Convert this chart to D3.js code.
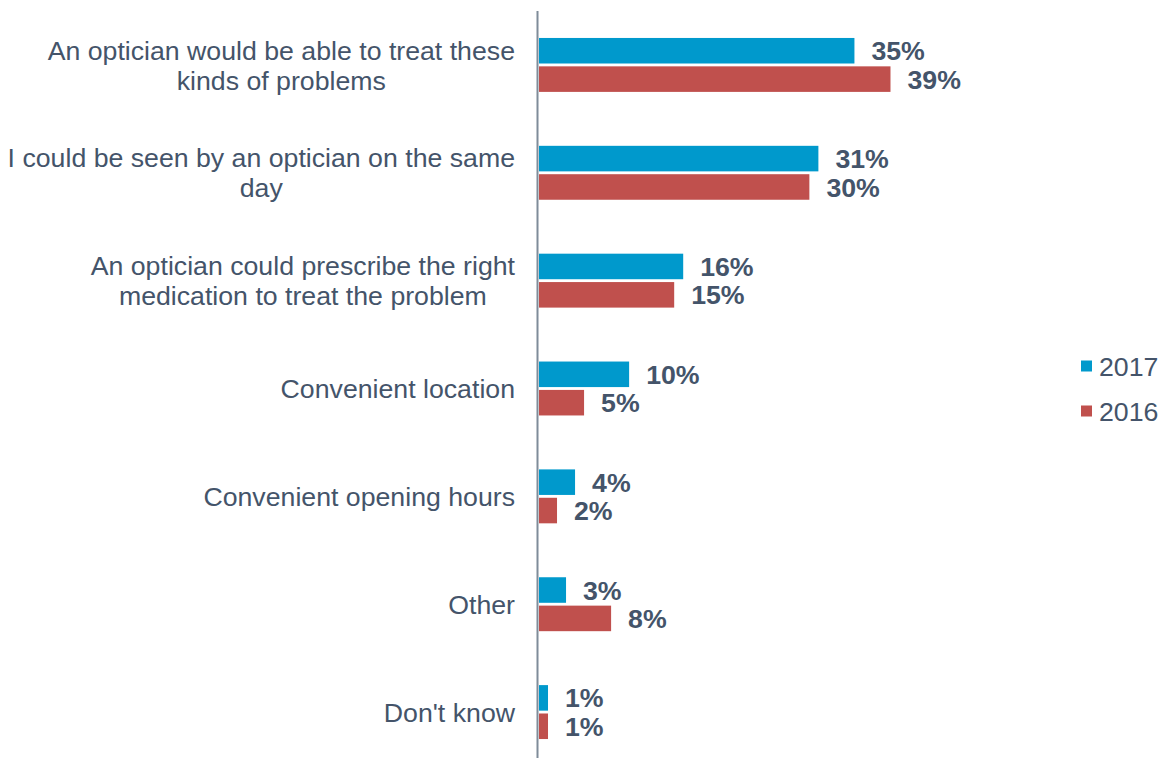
<!DOCTYPE html>
<html><head><meta charset="utf-8">
<script src="https://cdn.jsdelivr.net/npm/d3@7"></script>
<style>html,body{margin:0;padding:0;background:#fff;}svg{display:block;font-family:"Liberation Sans",Arial,sans-serif;}</style>
</head><body>
<svg id="chart" width="1165" height="758"></svg>
<script>
const categories = [
  ["An optician would be able to treat these", "kinds of problems"],
  ["I could be seen by an optician on the same", "day"],
  ["An optician could prescribe the right", "medication to treat the problem"],
  ["Convenient location"],
  ["Convenient opening hours"],
  ["Other"],
  ["Don't know"]
];
const seriesNames = ["2017", "2016"];
const values2017 = [35, 31, 16, 10, 4, 3, 1];
const values2016 = [39, 30, 15, 5, 2, 8, 1];
const colors = ["#0099CC", "#C0504D"];
const textColor = "#44546A";
const fs = 26.7;

const svg = d3.select("#chart");
const idx = d3.range(categories.length);
const y = d3.scaleBand().domain(idx).range([11, 766]).paddingInner(0.5).paddingOuter(0.25);
const ySub = d3.scaleBand().domain(seriesNames).range([0, y.bandwidth()]).paddingInner(0.1);
const x = d3.scaleLinear().domain([0, 40]).range([539, 539 + 360.5]);
const series = [values2017, values2016];

// bars
seriesNames.forEach((s, si) => {
  const g = svg.append("g");
  g.selectAll("rect").data(series[si]).join("rect")
    .attr("x", x(0))
    .attr("y", (d, i) => y(i) + ySub(s))
    .attr("width", d => x(d) - x(0))
    .attr("height", ySub.bandwidth())
    .attr("fill", colors[si]);
  g.selectAll("text").data(series[si]).join("text")
    .attr("x", d => x(d) + 17)
    .attr("y", (d, i) => y(i) + ySub(s) + ySub.bandwidth() / 2)
    .attr("dy", "0.36em")
    .attr("font-size", fs)
    .attr("font-weight", "bold")
    .attr("fill", textColor)
    .text(d => d + "%");
});

// axis line
svg.append("line").attr("x1", 537.5).attr("x2", 537.5).attr("y1", 11).attr("y2", 766)
  .attr("stroke", "#7F8C99").attr("stroke-width", 2);

// category labels (lines centred on each other, block right-aligned)
const lineH = 30;
categories.forEach((lines, i) => {
  const cy = y(i) + y.bandwidth() / 2;
  const t = svg.append("text").attr("text-anchor", "middle").attr("font-size", fs).attr("fill", textColor);
  lines.forEach((ln, li) => {
    t.append("tspan").attr("x", 0)
      .attr("y", cy + (li - (lines.length - 1) / 2) * lineH)
      .attr("dy", "0.36em").text(ln);
  });
  let maxW = 0;
  t.selectAll("tspan").each(function () { maxW = Math.max(maxW, this.getComputedTextLength()); });
  t.selectAll("tspan").attr("x", 515 - maxW / 2);
});

// legend
const legY = [366, 411];
seriesNames.forEach((s, si) => {
  svg.append("rect").attr("x", 1081).attr("y", legY[si] - 5.5).attr("width", 11).attr("height", 11).attr("fill", colors[si]);
  svg.append("text").attr("x", 1099).attr("y", legY[si]).attr("dy", "0.36em")
    .attr("font-size", fs).attr("fill", textColor).text(s);
});
</script>
</body></html>
